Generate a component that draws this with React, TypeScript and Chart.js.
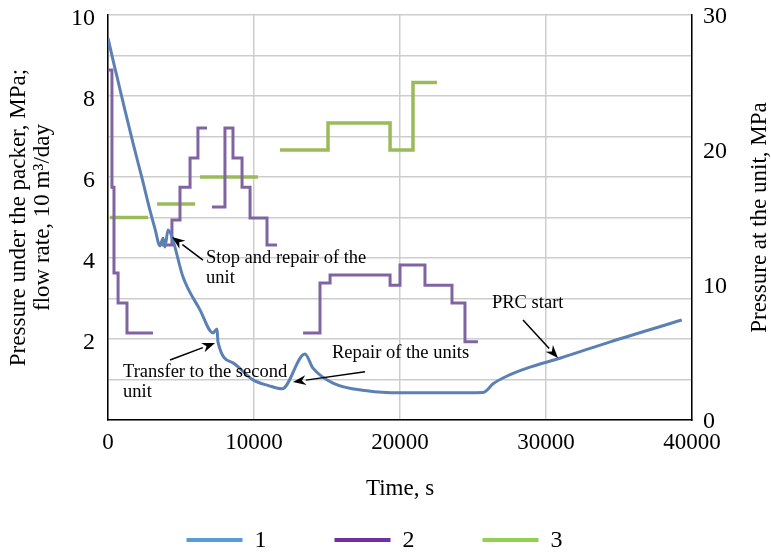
import React, { useEffect, useRef } from "react";
import { Chart, registerables } from "chart.js";

Chart.register(...registerables);

const FONT = "'Liberation Serif', 'Times New Roman', serif";

// Series 1: pressure under the packer, MPa (left axis)
const blueTime = [0, 340, 620, 1160, 1710, 2330, 2880, 3220, 3560, 3770, 3900, 4110, 4380, 5140, 6300, 7190, 7470, 7530, 8560, 9930, 11000, 11920, 13490, 14040, 15410, 17740, 20000, 23000, 25700, 26400, 27300, 28700, 31000, 34400, 39300];
const bluePressure = [9.43, 8.89, 8.47, 7.65, 6.84, 5.97, 5.17, 4.72, 4.3, 4.49, 4.27, 4.69, 4.52, 3.53, 2.72, 2.15, 2.25, 1.93, 1.41, 0.99, 0.85, 0.77, 1.63, 1.28, 0.91, 0.72, 0.67, 0.67, 0.68, 0.9, 1.08, 1.28, 1.53, 1.93, 2.47];

// Series 2: flow rate, 10 m3/day (left axis), step segments (level starts at given time)
const flowTimes = [
  [0, 270, 410, 690, 1300, 3080],
  [3700, 4380, 4930, 5620, 6160, 6780],
  [7120, 8010, 8560, 9180, 9730, 10890, 11580],
  [13360, 14520, 15210, 19320, 20000, 21710, 23560, 24450, 25340],
];
const flowRates = [
  [8.64, 5.75, 3.63, 2.89, 2.15, 2.15],
  [4.32, 4.94, 5.75, 6.47, 7.21, 7.21],
  [5.26, 7.21, 6.47, 5.75, 4.99, 4.32, 4.32],
  [2.15, 3.38, 3.58, 3.33, 3.83, 3.33, 2.89, 1.93, 1.93],
];

// Series 3: pressure at the unit, MPa (right axis), step segments
const unitTimes = [[140, 2740], [3360, 5960], [6300, 10270], [11780, 15070, 19320, 20890, 22530]];
const unitPressures = [[15, 15], [16, 16], [18, 18], [20, 22, 20, 25, 25]];

const seriesLabels = ["1", "2", "3"];
const lineColors = ["#5b80b4", "#8064a2", "#9bbb59"];
const legendColors = ["#5b9bd5", "#7030a0", "#92d050"];

const xTitle = "Time, s";
const leftTitle = ["Pressure under the packer, MPa;", "flow rate, 10 m\u00B3/day"];
const rightTitle = "Pressure at the unit, MPa";

// Annotations (data coordinates: time, left-axis value)
const noteLines = [["Stop and repair of the", "unit"], ["Transfer to the second", "unit"], ["Repair of the units"], ["PRC start"]];
const noteAt = [[6712, 4.0], [1027, 1.185], [15342, 1.65], [26301, 2.89]];
const arrowFrom = [[6507, 3.95], [4247, 1.48], [17603, 1.19], [28425, 2.47]];
const arrowTo = [[4384, 4.52], [7329, 1.9], [12671, 0.94], [30822, 1.53]];

function joinSegments(times: number[][], values: number[][]) {
  const pts: { x: number; y: number | null }[] = [];
  times.forEach((seg, i) => {
    if (i > 0) pts.push({ x: (times[i - 1][times[i - 1].length - 1] + seg[0]) / 2, y: null });
    seg.forEach((t, j) => pts.push({ x: t, y: values[i][j] }));
  });
  return pts;
}

const extrasPlugin = {
  id: "extras",
  afterDatasetsDraw(chart: any) {
    const ctx = chart.ctx;
    const xs = chart.scales.x;
    const ys = chart.scales.y;
    ctx.save();
    ctx.fillStyle = "#000";
    ctx.strokeStyle = "#000";
    ctx.font = `18.5px ${FONT}`;
    ctx.textAlign = "left";
    ctx.textBaseline = "middle";
    noteLines.forEach((lines, i) => {
      const tx = xs.getPixelForValue(noteAt[i][0]);
      const ty = ys.getPixelForValue(noteAt[i][1]);
      lines.forEach((l, k) => ctx.fillText(l, tx, ty + k * 20));
      const x0 = xs.getPixelForValue(arrowFrom[i][0]);
      const y0 = ys.getPixelForValue(arrowFrom[i][1]);
      const x1 = xs.getPixelForValue(arrowTo[i][0]);
      const y1 = ys.getPixelForValue(arrowTo[i][1]);
      const ang = Math.atan2(y1 - y0, x1 - x0);
      const hl = 13, hw = 5;
      const bx = x1 - hl * Math.cos(ang), by = y1 - hl * Math.sin(ang);
      ctx.lineWidth = 1.5;
      ctx.beginPath();
      ctx.moveTo(x0, y0);
      ctx.lineTo(bx, by);
      ctx.stroke();
      ctx.beginPath();
      ctx.moveTo(x1, y1);
      ctx.lineTo(bx + hw * Math.sin(ang), by - hw * Math.cos(ang));
      ctx.lineTo(x1 - (hl - 4) * Math.cos(ang), y1 - (hl - 4) * Math.sin(ang));
      ctx.lineTo(bx - hw * Math.sin(ang), by + hw * Math.cos(ang));
      ctx.closePath();
      ctx.fill();
    });
    ctx.restore();
  },
  afterDraw(chart: any) {
    const ctx = chart.ctx;
    const area = chart.chartArea;
    ctx.save();
    // right axis title, reading bottom to top
    ctx.font = `23px ${FONT}`;
    ctx.fillStyle = "#000";
    ctx.textAlign = "center";
    ctx.textBaseline = "middle";
    ctx.translate(chart.width - 11, (area.top + area.bottom) / 2);
    ctx.rotate(-Math.PI / 2);
    ctx.fillText(rightTitle, 0, 0);
    ctx.restore();
    // legend
    ctx.save();
    ctx.font = `24px ${FONT}`;
    ctx.textAlign = "left";
    ctx.textBaseline = "middle";
    const step = 148;
    const lineLen = 56;
    const startX = chart.width / 2 - 199;
    const y = chart.height - 13;
    seriesLabels.forEach((lab, i) => {
      const x = startX + i * step;
      ctx.fillStyle = legendColors[i];
      ctx.fillRect(x, y - 2, lineLen, 4);
      ctx.fillStyle = "#000";
      ctx.fillText(lab, x + lineLen + 12, y + 1);
    });
    ctx.restore();
  },
};

const noPadY = (w: number) => (s: any) => {
  s.width = w;
  s.paddingTop = 0;
  s.paddingBottom = 0;
};

export default function App() {
  const ref = useRef<HTMLCanvasElement>(null);
  useEffect(() => {
    if (!ref.current) return;
    const chart = new Chart(ref.current, {
      type: "line",
      data: {
        datasets: [
          {
            label: seriesLabels[0],
            data: blueTime.map((t, i) => ({ x: t, y: bluePressure[i] })),
            borderColor: lineColors[0],
            borderWidth: 3,
            pointRadius: 0,
            cubicInterpolationMode: "monotone",
            yAxisID: "y",
          },
          {
            label: seriesLabels[1],
            data: joinSegments(flowTimes, flowRates),
            borderColor: lineColors[1],
            borderWidth: 3,
            pointRadius: 0,
            stepped: "before",
            spanGaps: false,
            yAxisID: "y",
          },
          {
            label: seriesLabels[2],
            data: joinSegments(unitTimes, unitPressures),
            borderColor: lineColors[2],
            borderWidth: 3.5,
            pointRadius: 0,
            stepped: "before",
            spanGaps: false,
            yAxisID: "y1",
          },
        ] as any,
      },
      options: {
        animation: false,
        responsive: false,
        devicePixelRatio: 1,
        layout: { padding: { top: 15, bottom: 45, left: 0, right: 0 } },
        plugins: { legend: { display: false }, tooltip: { enabled: false } },
        scales: {
          x: {
            type: "linear",
            min: 0,
            max: 40000,
            ticks: {
              stepSize: 10000,
              padding: 9,
              color: "#000",
              font: { family: FONT, size: 23 },
              maxRotation: 0,
              callback: (v: any) => String(v),
            },
            grid: { color: "#cdcdcd", lineWidth: 1.5, drawTicks: false },
            border: { color: "#000", width: 1.5 },
            title: { display: true, text: xTitle, color: "#000", font: { family: FONT, size: 23 }, padding: { top: 0, bottom: 5 } },
            afterFit: (s: any) => {
              s.height = 88;
              s.paddingLeft = 0;
              s.paddingRight = 0;
            },
          },
          y: {
            type: "linear",
            position: "left",
            min: 0,
            max: 10,
            ticks: {
              stepSize: 1,
              padding: 13,
              labelOffset: 4,
              color: "#000",
              font: { family: FONT, size: 24 },
              callback: (v: any) => (v % 2 === 0 && v !== 0 ? String(v) : ""),
            },
            grid: { color: "#cdcdcd", lineWidth: 1.5, drawTicks: false },
            border: { color: "#000", width: 1.5 },
            title: { display: true, text: leftTitle, color: "#000", font: { family: FONT, size: 23, lineHeight: 1.05 }, padding: { top: 7, bottom: 0 } },
            afterFit: noPadY(108),
          },
          y1: {
            type: "linear",
            position: "right",
            min: 0,
            max: 30,
            ticks: { stepSize: 10, padding: 11, labelOffset: 2, color: "#000", font: { family: FONT, size: 24 } },
            grid: { display: false, drawTicks: false },
            border: { color: "#000", width: 1.5 },
            afterFit: noPadY(79),
          },
        },
      } as any,
      plugins: [extrasPlugin],
    });
    return () => chart.destroy();
  }, []);
  return (
    <div style={{ position: "fixed", left: 0, top: 0, width: 771, height: 553, background: "#fff" }}>
      <canvas ref={ref} width={771} height={553} />
    </div>
  );
}
